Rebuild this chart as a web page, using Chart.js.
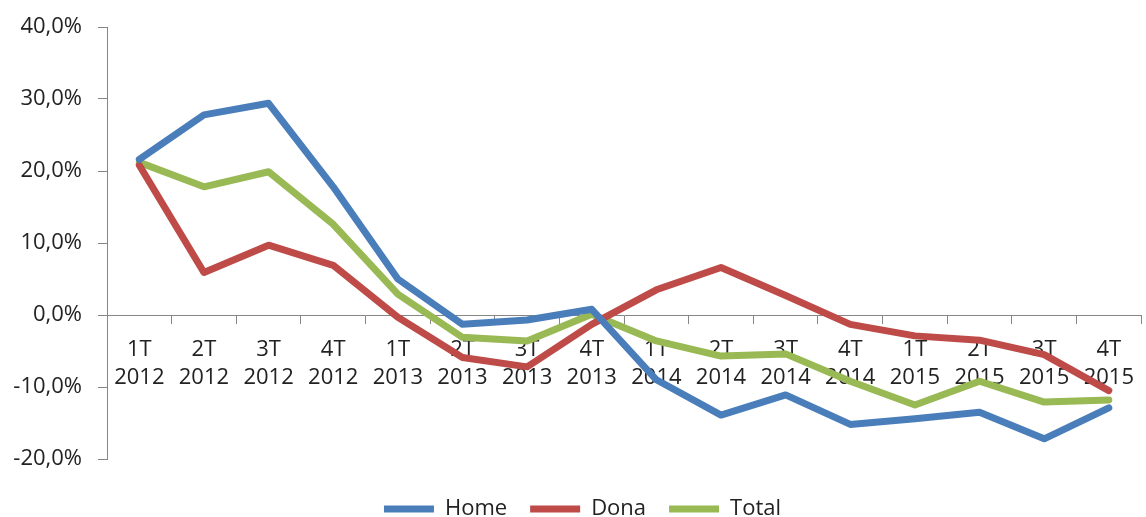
<!DOCTYPE html>
<html>
<head>
<meta charset="utf-8">
<script src="https://cdn.jsdelivr.net/npm/chart.js@4/dist/chart.umd.min.js"></script>
<style>
  html, body { margin: 0; padding: 0; background: #fff; }
  #wrap { width: 1146px; height: 517px; position: relative; }
</style>
</head>
<body>
<div id="wrap"><canvas id="c" width="1146" height="517"></canvas></div>
<script>
const quarters = ["1T","2T","3T","4T","1T","2T","3T","4T","1T","2T","3T","4T","1T","2T","3T","4T"];
const years = ["2012","2012","2012","2012","2013","2013","2013","2013","2014","2014","2014","2014","2015","2015","2015","2015"];
const home  = [21.6, 27.8, 29.4, 17.8, 5.0, -1.3, -0.7, 0.8, -9.0, -13.9, -11.1, -15.2, -14.4, -13.5, -17.2, -12.9];
const dona  = [20.8, 5.9, 9.7, 6.9, -0.3, -5.9, -7.2, -1.3, 3.5, 6.6, 2.7, -1.3, -2.9, -3.5, -5.5, -10.5];
const total = [21.2, 17.8, 19.9, 12.6, 2.9, -3.1, -3.6, 0.1, -3.6, -5.7, -5.4, -9.2, -12.5, -9.2, -12.1, -11.8];
const yTicks = [-20, -10, 0, 10, 20, 30, 40];

const labels = quarters.map((q, i) => [q, years[i]]);
const FONT = "'Open Sans', 'DejaVu Sans', sans-serif";
const AXIS = '#868686';

function ds(label, data, color) {
  return {
    label, data,
    borderColor: color, backgroundColor: color,
    borderWidth: 7, tension: 0, pointRadius: 0, pointHoverRadius: 0,
    borderCapStyle: 'round', borderJoinStyle: 'round', fill: false,
    pointStyle: 'line'
  };
}

const legendShift = {
  id: 'legendShift',
  afterLayout(chart) {
    const lg = chart.legend;
    if (!lg) return;
    lg.top += 16; lg.bottom += 16;
    lg.left += 10; lg.right += 10;
  }
};

new Chart(document.getElementById('c'), {
  type: 'line',
  data: {
    labels,
    datasets: [
      ds('Home', home, '#4A7EBB'),
      ds('Dona', dona, '#BE4B48'),
      ds('Total', total, '#98B954')
    ]
  },
  plugins: [legendShift],
  options: {
    responsive: false,
    animation: false,
    devicePixelRatio: 1,
    layout: { padding: { left: 0, right: 1, top: 12, bottom: 3 } },
    plugins: {
      tooltip: { enabled: false },
      legend: {
        position: 'bottom',
        labels: {
          usePointStyle: true,
          pointStyleWidth: 50,
          boxHeight: 7,
          padding: 23,
          color: '#222',
          font: { family: FONT, size: 22 }
        }
      }
    },
    scales: {
      x: {
        type: 'category',
        position: { y: 0 },
        offset: true,
        grid: { display: true, drawOnChartArea: false, drawTicks: true, tickLength: 8, offset: true, color: AXIS },
        border: { display: true, color: AXIS, width: 1 },
        ticks: {
          color: '#222', maxRotation: 0, autoSkip: false, padding: 12,
          font: { family: FONT, size: 22, lineHeight: 1.3 }
        }
      },
      y: {
        min: -20, max: 40,
        afterBuildTicks: (s) => { s.ticks = yTicks.map(v => ({ value: v })); },
        afterFit: (s) => { s.width = 107; },
        grid: { display: true, drawOnChartArea: false, drawTicks: true, tickLength: 9, color: AXIS },
        border: { display: true, color: AXIS, width: 1 },
        ticks: {
          color: '#222', padding: 16,
          font: { family: FONT, size: 22, lineHeight: 1.0 },
          callback: (v) => v.toFixed(1).replace('.', ',') + '%'
        }
      }
    }
  }
});
</script>
</body>
</html>
